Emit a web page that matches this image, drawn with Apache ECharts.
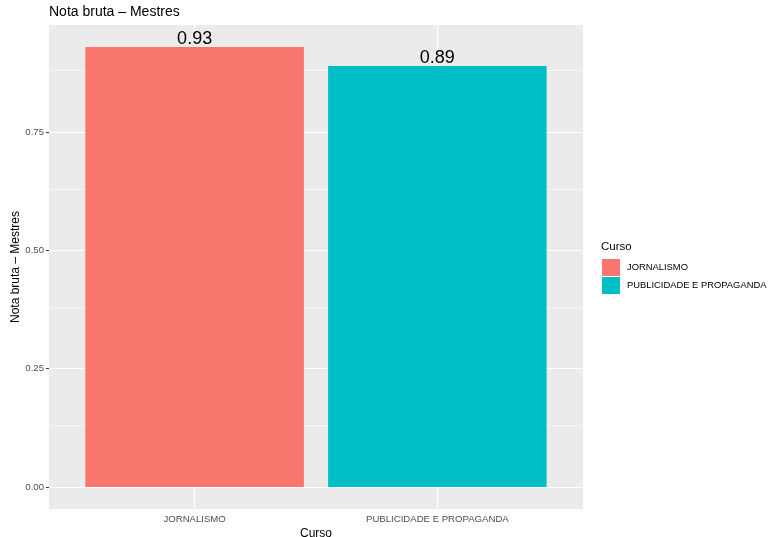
<!DOCTYPE html>
<html><head><meta charset="utf-8">
<script src="https://cdn.jsdelivr.net/npm/echarts@6/dist/echarts.min.js"></script>
<style>html,body{margin:0;padding:0;background:#fff}#c{width:771px;height:537px}</style>
</head><body><div id="c"></div>
<script>
const categories = ["JORNALISMO", "PUBLICIDADE E PROPAGANDA"];
const values = [0.93, 0.89];
const colors = ["#F8766D", "#00BFC4"];
const yTicks = [0, 0.25, 0.5, 0.75];
const yMinor = [0.125, 0.375, 0.625, 0.875];
const xPos = [1, 2];

const font = "Liberation Sans, Arial, sans-serif";
const chart = echarts.init(document.getElementById('c'), null, {renderer: 'canvas'});

const gridLines = [];
yTicks.forEach(v => gridLines.push({yAxis: v, lineStyle: {width: 1.1}}));
yMinor.forEach(v => gridLines.push({yAxis: v, lineStyle: {width: 0.55}}));
xPos.forEach(v => gridLines.push({xAxis: v, lineStyle: {width: 1.1}}));

const series = [{
  type: 'line', data: [], z: 1, silent: true, animation: false,
  markLine: {symbol: 'none', silent: true, z: 1, label: {show: false}, animation: false,
    lineStyle: {color: '#FFFFFF', type: 'solid'}, data: gridLines}
}];
categories.forEach((c, i) => {
  series.push({
    type: 'bar', name: c, z: 10, animation: false,
    barWidth: 218.5, barGap: '-100%',
    itemStyle: {color: colors[i]},
    data: [[xPos[i], values[i]]],
    label: {show: true, position: 'top', distance: -1, color: '#000', fontSize: 18,
      fontFamily: font, formatter: p => p.value[1].toFixed(2)}
  });
});

chart.setOption({
  animation: false,
  backgroundColor: '#fff',
  title: {text: 'Nota bruta – Mestres', left: 49, top: 5, padding: 0,
    textStyle: {fontFamily: font, fontSize: 14, fontWeight: 'normal', color: '#000'}},
  grid: {left: 49, right: 188, top: 25, bottom: 28, show: true, outerBoundsMode: 'none',
    containLabel: false, backgroundColor: '#EBEBEB', borderWidth: 0},
  legend: {orient: 'vertical', left: 602, top: 259, padding: 0, itemWidth: 18, itemHeight: 17, itemGap: 1,
    icon: 'rect', textStyle: {fontFamily: font, fontSize: 9.4, color: '#000', padding: [0,0,0,2]},
    data: categories},
  graphic: [{type: 'text', left: 601, top: 241,
    style: {text: 'Curso', font: '11.5px ' + font, fill: '#000'}}],
  xAxis: {type: 'value', min: 0.4, max: 2.6,
    name: 'Curso', nameLocation: 'middle', nameGap: 18.5, nameMoveOverlap: false,
    nameTextStyle: {fontFamily: font, fontSize: 12, color: '#000'},
    axisLine: {show: false}, splitLine: {show: false},
    axisTick: {show: true, length: 3, lineStyle: {color: '#333'}, customValues: xPos},
    axisLabel: {customValues: xPos, margin: 5, fontFamily: font, fontSize: 9.6, color: '#4D4D4D',
      formatter: v => categories[Math.round(v) - 1] || ''}},
  yAxis: {type: 'value', min: -0.0465, max: 0.9765,
    name: 'Nota bruta – Mestres', nameLocation: 'middle', nameGap: 27, nameRotate: 90, nameMoveOverlap: false,
    nameTextStyle: {fontFamily: font, fontSize: 12, color: '#000'},
    axisLine: {show: false}, splitLine: {show: false},
    axisTick: {show: true, length: 3, lineStyle: {color: '#333'}, customValues: yTicks},
    axisLabel: {customValues: yTicks, margin: 5, fontFamily: font, fontSize: 9.6, color: '#4D4D4D',
      formatter: v => v.toFixed(2)}},
  series: series
});
</script></body></html>
